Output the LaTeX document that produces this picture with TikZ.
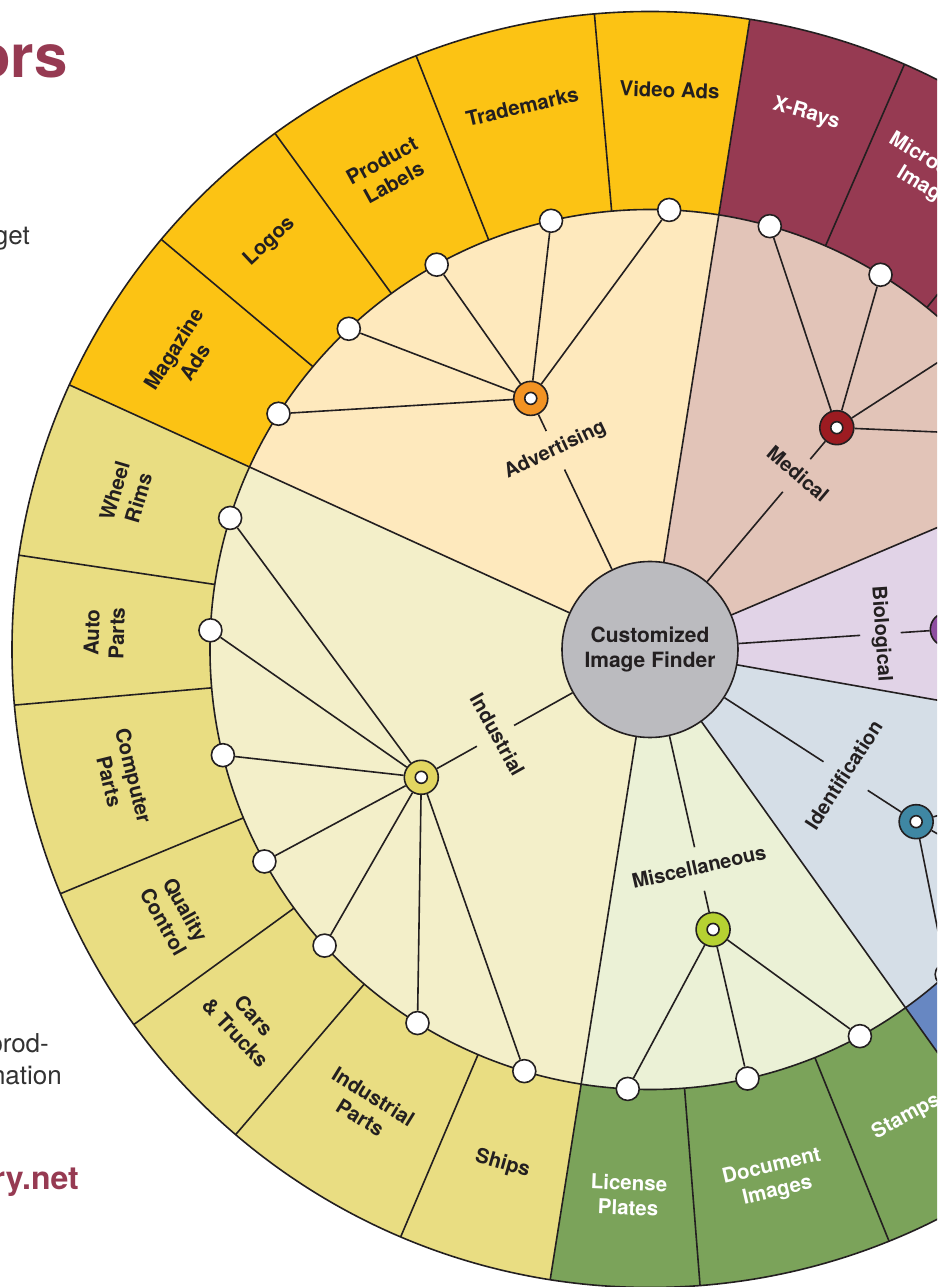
\documentclass[tikz,border=0pt]{standalone}
\usepackage{fontspec}
\setmainfont{TeX Gyre Heros}
\begin{document}
\begin{tikzpicture}[x=1pt,y=1pt,line width=1.6pt,
  leaf/.style={circle,draw=ink,fill=white,line width=1.6pt,minimum size=23pt,inner sep=0pt},
  hub/.style={circle,draw=ink,fill=#1,line width=1.6pt,minimum size=34pt,inner sep=0pt,
    path picture={\draw[ink,fill=white,line width=1.6pt] (path picture bounding box.center) circle (6pt);}},
  catlabel/.style={font=\fontsize{20}{24}\selectfont\bfseries,text=ink,inner xsep=2pt,
    text height=14.5pt,text depth=4.5pt},
  ringlabel/.style={font=\fontsize{20.5}{25}\selectfont\bfseries,align=center,inner sep=0pt},
  core/.style={circle,draw=ink,fill=coregray,line width=1.6pt,minimum size=176pt,inner sep=0pt,
    align=center,font=\fontsize{21}{25}\selectfont\bfseries,text=ink}]

% Colors
\definecolor{ink}{RGB}{35,31,32}
\definecolor{maroon}{RGB}{150,58,82}
\definecolor{bodygray}{RGB}{50,50,50}
\definecolor{coregray}{RGB}{187,187,191}
\definecolor{adout}{RGB}{252,195,20}
\definecolor{adin}{RGB}{254,233,189}
\definecolor{adhub}{RGB}{242,147,35}
\definecolor{medout}{RGB}{150,58,82}
\definecolor{medin}{RGB}{226,196,184}
\definecolor{medhub}{RGB}{156,27,33}
\definecolor{bioout}{RGB}{142,78,161}
\definecolor{bioin}{RGB}{225,211,231}
\definecolor{biohub}{RGB}{142,78,161}
\definecolor{ideout}{RGB}{103,135,194}
\definecolor{idein}{RGB}{213,222,231}
\definecolor{idehub}{RGB}{63,135,163}
\definecolor{misout}{RGB}{123,163,90}
\definecolor{misin}{RGB}{235,241,214}
\definecolor{mishub}{RGB}{182,209,50}
\definecolor{indout}{RGB}{233,221,130}
\definecolor{indin}{RGB}{243,239,201}
\definecolor{indhub}{RGB}{226,214,97}

% Parameters
\def\rIn{440}
\def\rOut{638}

\useasboundingbox (-650,-637.5) rectangle (294,649.5);
\clip (-650,-637.5) rectangle (294,649.5);

% Side column, cut by the page
\node[anchor=base east,text=maroon,font=\fontsize{60}{60}\selectfont\bfseries] (title) at (-578,571.5) {ors};
\node[anchor=base east,text=bodygray,font=\fontsize{26}{32}\selectfont] (body1) at (-616,404.5) {get};
\node[anchor=base east,text=bodygray,font=\fontsize{26}{32}\selectfont] (body2) at (-597,-402.5) {prod-};
\node[anchor=base east,text=bodygray,font=\fontsize{26}{32}\selectfont] (body3) at (-584,-434.5) {nation};
\node[anchor=base east,text=maroon,font=\fontsize{32}{38}\selectfont\bfseries] (url) at (-567,-539.5) {ry.net};

\begin{scope}
\clip (-650,-637.5) rectangle (287,649.5);

% Sectors and ring
\foreach \a/\b/\co/\ci in {81/155.5/adout/adin, 155.5/261/indout/indin, 261/305.5/misout/misin,
    305.5/350/ideout/idein, 350/383/bioout/bioin, 23/81/medout/medin} {
  \fill[\co] (\a:\rIn) -- (\a:\rOut) arc[start angle=\a, end angle=\b, radius=\rOut]
    -- (\b:\rIn) arc[start angle=\b, end angle=\a, radius=\rIn] -- cycle;
  \fill[\ci] (0,0) -- (\a:\rIn) arc[start angle=\a, end angle=\b, radius=\rIn] -- cycle;
}

% Ring segment edges
\foreach \a in {95,111.5,126,140,171.5,185,202.5,216,229.5,247,274.5,292,320,335,366.5,37,51,66.5}
  \draw[ink] (\a:\rIn) -- (\a:\rOut);

% Sector edges
\foreach \a in {81,155.5,261,305.5,350,23}
  \draw[ink] (0,0) -- (\a:\rOut);
\draw[ink] (0,0) circle (\rIn);
\draw[ink] (0,0) circle (\rOut);

% Hubs
\node[hub=adhub] (adv) at (115.4:278) {};
\node[hub=medhub] (med) at (49.9:290) {};
\node[hub=biohub] (bio) at (3.85:298) {};
\node[hub=idehub] (ide) at (-32.9:317) {};
\node[hub=mishub] (mis) at (-77.3:287) {};
\node[hub=indhub] (ind) at (209.2:262) {};

% Leaves
\foreach \t [count=\i] in {87.5,103,119,133.2,147.6} {
  \node[leaf] (adv-\i) at (\t:\rIn) {};
  \draw[ink] (adv) -- (adv-\i);
}
\foreach \t [count=\i] in {74.2,58.4,44,29} {
  \node[leaf] (med-\i) at (\t:\rIn) {};
  \draw[ink] (med) -- (med-\i);
}
\foreach \t [count=\i] in {162.6,177.5,193.9,208.8,222.3,238.1,253.4} {
  \node[leaf] (ind-\i) at (\t:\rIn) {};
  \draw[ink] (ind) -- (ind-\i);
}
\foreach \t [count=\i] in {267.1,282.8,298.5} {
  \node[leaf] (mis-\i) at (\t:\rIn) {};
  \draw[ink] (mis) -- (mis-\i);
}
\foreach \t [count=\i] in {312.4,328,343} {
  \node[leaf] (ide-\i) at (\t:\rIn) {};
  \draw[ink] (ide) -- (ide-\i);
}

% Centre and category labels
\node[core] (core) at (0,0) {Customized\\Image Finder};
\foreach \n/\t/\r/\s/\txt in {adv/115.4/220.5/11/Advertising, med/49.9/227.5/11/Medical,
    bio/3.85/231/10/Biological, ide/-32.9/233/16/Identification,
    mis/-77.3/225/12/Miscellaneous, ind/209.2/177/11/Industrial} {
  \pgfmathsetmacro\rot{\t<0 ? \t+90 : (\t>180 ? \t+90 : \t-90)}
  \node[catlabel,inner ysep=\s pt,rotate=\rot] (\n lab) at (\t:\r) {\txt};
  \draw[ink] (core) -- (\n lab);
  \draw[ink] (\n lab) -- (\n);
}

% Ring labels
\foreach \t/\r/\txt [count=\i] in {88/560/Video Ads, 103.25/558/Trademarks, 118.75/545/Product\\Labels,
    133/558/Logos, 147.75/551/Magazine\\Ads, 163.5/546/Wheel\\Rims, 178.25/546/Auto\\Parts,
    193.75/544/Computer\\Parts, 209.25/545/Quality\\Control, 222.75/552/Cars\\\& Trucks,
    238.25/538/Industrial\\Parts, 254/535/Ships} {
  \pgfmathsetmacro\rot{\t>180 ? \t+90 : \t-90}
  \node[ringlabel,text=ink,rotate=\rot] (ring-\i) at (\t:\r) {\txt};
}
\foreach \t/\r/\txt [count=\i] in {73.75/558/X-Rays, 58.75/550/Microscopic\\Images,
    267.75/546/License\\Plates, 283.25/544/Document\\Images, 298.75/533/Stamps} {
  \pgfmathsetmacro\rot{\t>180 ? \t+90 : \t-90}
  \node[ringlabel,text=white,rotate=\rot] (wring-\i) at (\t:\r) {\txt};
}
\end{scope}
\end{tikzpicture}
\end{document}
